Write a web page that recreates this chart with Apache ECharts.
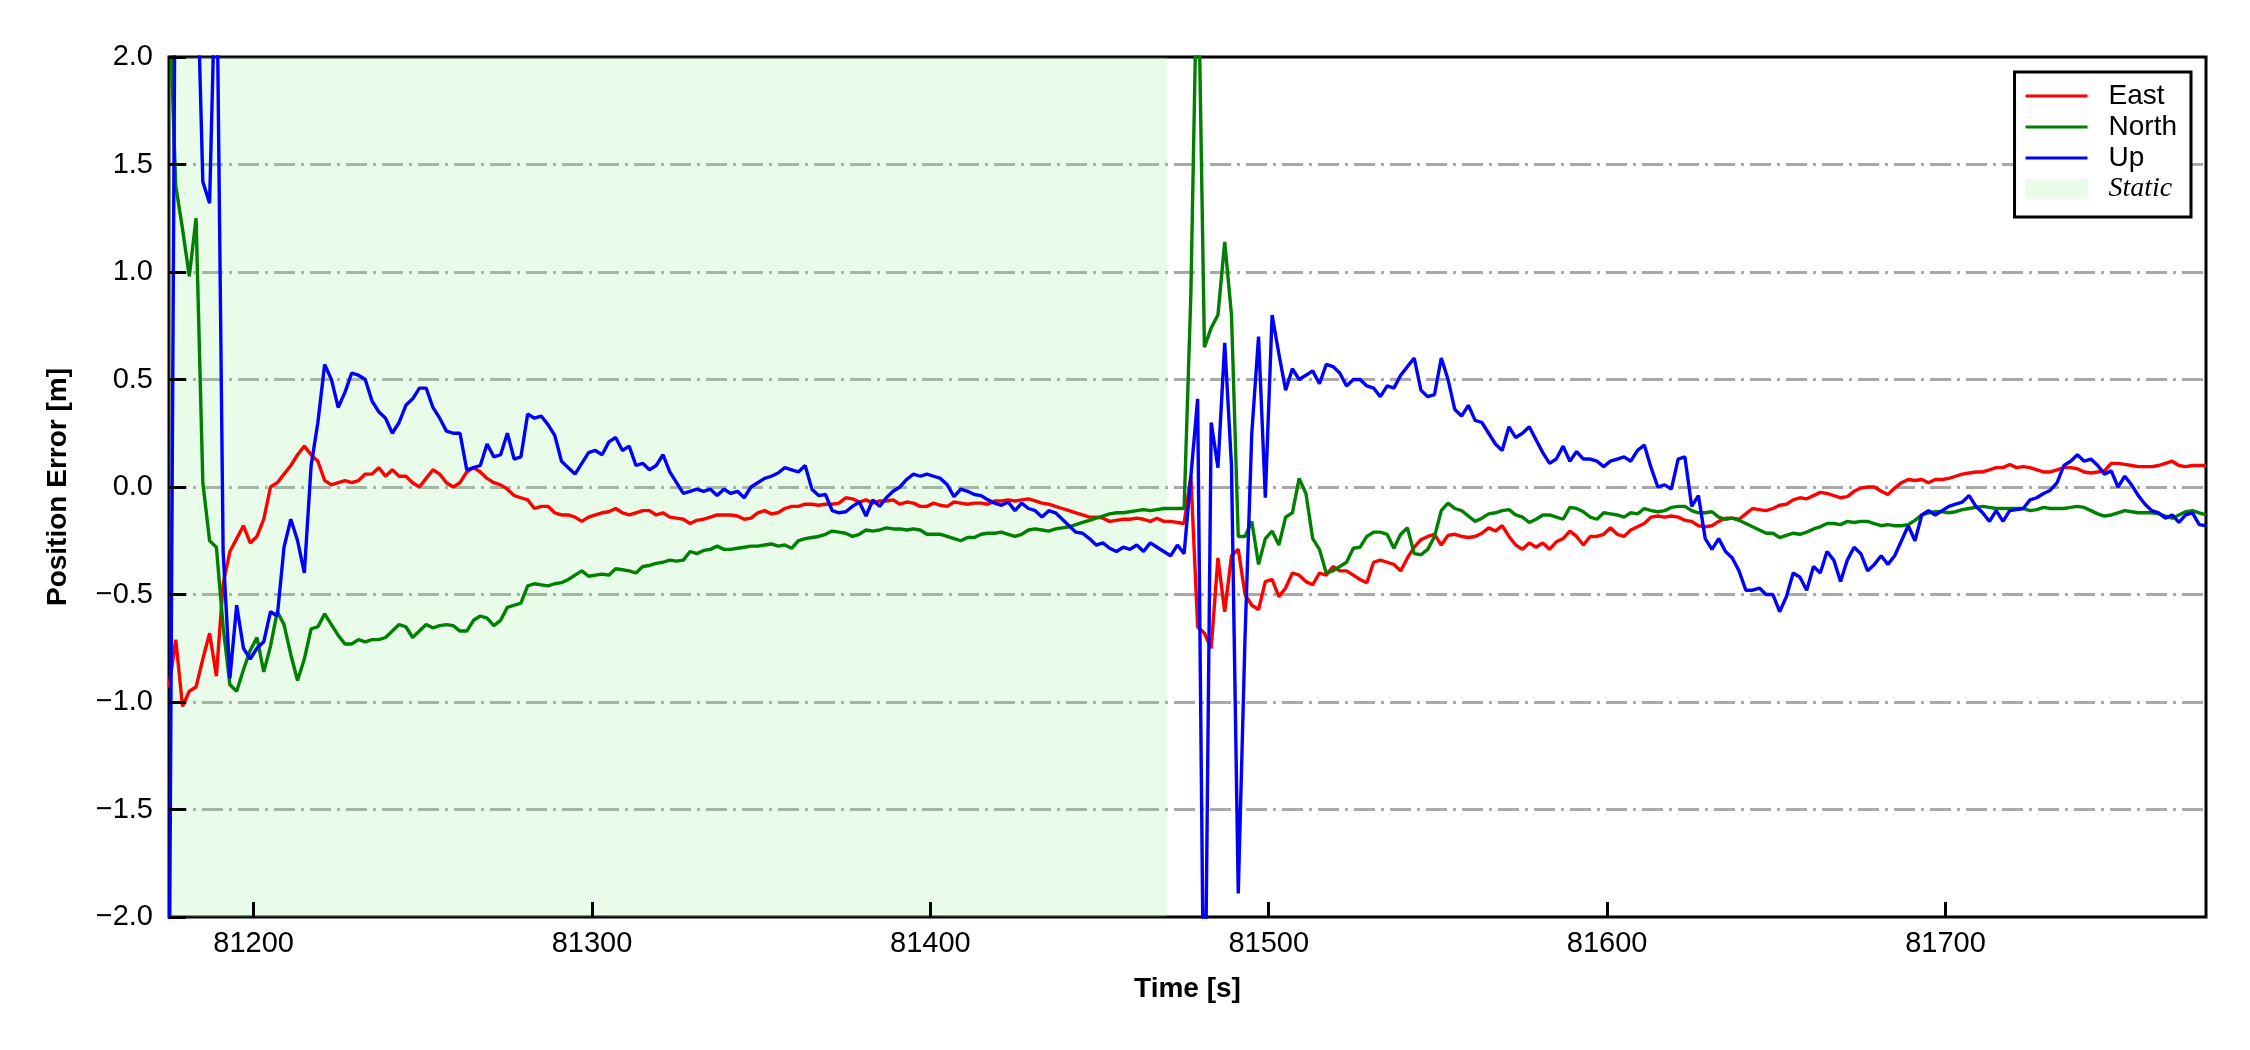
<!DOCTYPE html>
<html>
<head>
<meta charset="utf-8">
<title>Position Error</title>
<script src="https://cdn.jsdelivr.net/npm/echarts@6/dist/echarts.min.js"></script>
<style>
    html, body { margin: 0; padding: 0; background: #fff; }
    #chart { width: 2250px; height: 1050px; }
</style>
</head>
<body>
<div id="chart"></div>
<script>
    // samples every 2 s starting at T0
    const T0 = 81175;
    const DT = 2;
    const xTicks = [81200, 81300, 81400, 81500, 81600, 81700];
    const staticSpan = [81175, 81470];

    const east = [
        -0.93, -0.71, -1.02, -0.95, -0.93, -0.80, -0.68, -0.88, -0.45, -0.30,
        -0.24, -0.18, -0.26, -0.23, -0.15, 0.00, 0.02, 0.06, 0.10, 0.15,
        0.19, 0.15, 0.12, 0.03, 0.01, 0.02, 0.03, 0.02, 0.03, 0.06,
        0.06, 0.09, 0.05, 0.08, 0.05, 0.05, 0.02, 0.00, 0.04, 0.08,
        0.06, 0.02, 0.00, 0.02, 0.07, 0.09, 0.07, 0.04, 0.02, 0.01,
        -0.01, -0.04, -0.05, -0.06, -0.10, -0.09, -0.09, -0.12, -0.13, -0.13,
        -0.14, -0.16, -0.14, -0.13, -0.12, -0.115, -0.10, -0.12, -0.13, -0.12,
        -0.11, -0.11, -0.13, -0.12, -0.14, -0.145, -0.15, -0.17, -0.155, -0.15,
        -0.14, -0.13, -0.13, -0.13, -0.135, -0.15, -0.145, -0.12, -0.11, -0.125,
        -0.12, -0.10, -0.09, -0.09, -0.08, -0.08, -0.085, -0.08, -0.08, -0.075,
        -0.05, -0.055, -0.07, -0.06, -0.075, -0.065, -0.065, -0.06, -0.08, -0.07,
        -0.075, -0.09, -0.09, -0.075, -0.085, -0.09, -0.07, -0.075, -0.08, -0.075,
        -0.075, -0.08, -0.065, -0.065, -0.06, -0.065, -0.06, -0.055, -0.065, -0.075,
        -0.08, -0.09, -0.10, -0.11, -0.12, -0.13, -0.14, -0.14, -0.145, -0.16,
        -0.155, -0.15, -0.15, -0.145, -0.15, -0.16, -0.145, -0.16, -0.16, -0.165,
        -0.17, 0.05, -0.65, -0.68, -0.75, -0.33, -0.58, -0.32, -0.29, -0.50,
        -0.55, -0.57, -0.44, -0.43, -0.51, -0.47, -0.40, -0.41, -0.44, -0.455,
        -0.40, -0.41, -0.37, -0.39, -0.39, -0.41, -0.43, -0.445, -0.35, -0.34,
        -0.35, -0.36, -0.39, -0.33, -0.28, -0.245, -0.23, -0.22, -0.27, -0.225,
        -0.22, -0.23, -0.235, -0.23, -0.215, -0.19, -0.205, -0.18, -0.23, -0.27,
        -0.29, -0.26, -0.28, -0.26, -0.29, -0.255, -0.24, -0.205, -0.23, -0.27,
        -0.23, -0.23, -0.22, -0.19, -0.22, -0.23, -0.20, -0.185, -0.17, -0.14,
        -0.135, -0.14, -0.135, -0.14, -0.155, -0.16, -0.18, -0.185, -0.18, -0.16,
        -0.145, -0.145, -0.15, -0.125, -0.10, -0.105, -0.11, -0.10, -0.085, -0.08,
        -0.06, -0.05, -0.055, -0.04, -0.025, -0.03, -0.04, -0.05, -0.045, -0.02,
        -0.005, 0.00, 0.00, -0.02, -0.035, -0.005, 0.02, 0.035, 0.03, 0.035,
        0.02, 0.035, 0.035, 0.04, 0.05, 0.06, 0.065, 0.07, 0.07, 0.08,
        0.09, 0.09, 0.105, 0.09, 0.095, 0.09, 0.08, 0.07, 0.07, 0.08,
        0.09, 0.09, 0.085, 0.07, 0.065, 0.07, 0.075, 0.11, 0.11, 0.105,
        0.10, 0.095, 0.095, 0.095, 0.10, 0.11, 0.12, 0.10, 0.095, 0.10,
        0.10, 0.10
    ];

    const north = [
        2.30, 1.40, 1.20, 0.98, 1.25, 0.02, -0.25, -0.28, -0.65, -0.92,
        -0.95, -0.85, -0.76, -0.70, -0.86, -0.74, -0.58, -0.64, -0.78, -0.90,
        -0.80, -0.66, -0.65, -0.59, -0.64, -0.69, -0.73, -0.73, -0.71, -0.72,
        -0.71, -0.71, -0.70, -0.67, -0.64, -0.65, -0.70, -0.67, -0.64, -0.655,
        -0.645, -0.64, -0.645, -0.67, -0.67, -0.62, -0.60, -0.61, -0.645, -0.62,
        -0.56, -0.55, -0.54, -0.46, -0.45, -0.455, -0.46, -0.45, -0.445, -0.43,
        -0.41, -0.39, -0.415, -0.41, -0.405, -0.41, -0.38, -0.385, -0.39, -0.40,
        -0.37, -0.365, -0.355, -0.35, -0.34, -0.345, -0.34, -0.30, -0.31, -0.295,
        -0.29, -0.275, -0.29, -0.29, -0.285, -0.28, -0.275, -0.275, -0.27, -0.265,
        -0.275, -0.27, -0.285, -0.25, -0.24, -0.235, -0.23, -0.22, -0.205, -0.21,
        -0.215, -0.23, -0.22, -0.20, -0.205, -0.20, -0.19, -0.195, -0.195, -0.20,
        -0.195, -0.20, -0.22, -0.22, -0.22, -0.23, -0.24, -0.25, -0.235, -0.235,
        -0.22, -0.215, -0.215, -0.21, -0.22, -0.23, -0.22, -0.20, -0.195, -0.20,
        -0.205, -0.195, -0.19, -0.185, -0.175, -0.165, -0.155, -0.145, -0.135, -0.125,
        -0.12, -0.12, -0.115, -0.11, -0.105, -0.11, -0.105, -0.10, -0.10, -0.10,
        -0.10, 0.90, 2.60, 0.65, 0.74, 0.80, 1.14, 0.80, -0.23, -0.23,
        -0.16, -0.36, -0.24, -0.205, -0.27, -0.14, -0.12, 0.04, -0.03, -0.24,
        -0.29, -0.40, -0.39, -0.37, -0.35, -0.285, -0.28, -0.23, -0.21, -0.21,
        -0.22, -0.285, -0.22, -0.19, -0.31, -0.315, -0.29, -0.23, -0.11, -0.075,
        -0.10, -0.11, -0.135, -0.16, -0.145, -0.125, -0.12, -0.11, -0.105, -0.13,
        -0.14, -0.165, -0.15, -0.13, -0.13, -0.14, -0.15, -0.095, -0.10, -0.115,
        -0.14, -0.15, -0.12, -0.125, -0.13, -0.14, -0.12, -0.125, -0.10, -0.11,
        -0.115, -0.11, -0.095, -0.09, -0.09, -0.11, -0.12, -0.12, -0.115, -0.14,
        -0.15, -0.145, -0.155, -0.17, -0.185, -0.20, -0.215, -0.215, -0.235, -0.225,
        -0.215, -0.22, -0.21, -0.195, -0.185, -0.17, -0.17, -0.175, -0.16, -0.165,
        -0.16, -0.16, -0.17, -0.18, -0.175, -0.18, -0.18, -0.175, -0.155, -0.13,
        -0.12, -0.115, -0.115, -0.12, -0.115, -0.105, -0.10, -0.095, -0.09, -0.095,
        -0.10, -0.10, -0.10, -0.10, -0.10, -0.11, -0.105, -0.095, -0.10, -0.10,
        -0.10, -0.095, -0.09, -0.095, -0.11, -0.125, -0.135, -0.13, -0.12, -0.11,
        -0.115, -0.12, -0.12, -0.12, -0.125, -0.135, -0.145, -0.13, -0.115, -0.11,
        -0.12, -0.13
    ];

    const up = [
        -2.60, 3.00, 3.20, 3.00, 2.60, 1.42, 1.32, 2.60, -0.30, -0.89,
        -0.55, -0.75, -0.80, -0.75, -0.72, -0.58, -0.60, -0.28, -0.15, -0.25,
        -0.40, 0.10, 0.30, 0.57, 0.50, 0.37, 0.44, 0.53, 0.52, 0.50,
        0.40, 0.35, 0.32, 0.25, 0.30, 0.38, 0.41, 0.46, 0.46, 0.37,
        0.32, 0.26, 0.25, 0.25, 0.08, 0.09, 0.10, 0.20, 0.14, 0.15,
        0.25, 0.13, 0.14, 0.34, 0.32, 0.33, 0.29, 0.24, 0.12, 0.09,
        0.06, 0.11, 0.16, 0.17, 0.15, 0.21, 0.23, 0.17, 0.19, 0.10,
        0.11, 0.08, 0.10, 0.15, 0.07, 0.02, -0.03, -0.02, -0.01, -0.02,
        -0.01, -0.04, -0.01, -0.03, -0.02, -0.05, 0.00, 0.02, 0.04, 0.05,
        0.065, 0.09, 0.08, 0.07, 0.10, -0.01, -0.04, -0.035, -0.11, -0.12,
        -0.115, -0.09, -0.07, -0.135, -0.06, -0.09, -0.05, -0.02, 0.00, 0.035,
        0.06, 0.05, 0.06, 0.05, 0.04, 0.01, -0.045, -0.01, -0.02, -0.035,
        -0.04, -0.06, -0.075, -0.085, -0.07, -0.11, -0.075, -0.10, -0.11, -0.14,
        -0.11, -0.12, -0.15, -0.18, -0.21, -0.215, -0.24, -0.27, -0.26, -0.285,
        -0.30, -0.28, -0.29, -0.27, -0.30, -0.26, -0.28, -0.30, -0.32, -0.27,
        -0.31, 0.05, 0.41, -2.80, 0.30, 0.09, 0.67, 0.10, -1.89, -0.70,
        0.25, 0.70, -0.05, 0.80, 0.62, 0.45, 0.55, 0.50, 0.52, 0.54,
        0.48, 0.57, 0.56, 0.53, 0.47, 0.50, 0.50, 0.47, 0.46, 0.42,
        0.47, 0.46, 0.52, 0.56, 0.60, 0.45, 0.42, 0.43, 0.60, 0.50,
        0.36, 0.33, 0.38, 0.31, 0.30, 0.25, 0.20, 0.17, 0.28, 0.23,
        0.25, 0.28, 0.22, 0.16, 0.11, 0.13, 0.19, 0.12, 0.165, 0.13,
        0.13, 0.12, 0.095, 0.12, 0.13, 0.14, 0.12, 0.17, 0.195, 0.09,
        0.00, 0.01, -0.01, 0.13, 0.14, -0.09, -0.04, -0.24, -0.29, -0.24,
        -0.30, -0.33, -0.39, -0.48, -0.48, -0.47, -0.50, -0.50, -0.58, -0.51,
        -0.40, -0.42, -0.48, -0.37, -0.40, -0.30, -0.34, -0.44, -0.34, -0.28,
        -0.31, -0.39, -0.36, -0.32, -0.36, -0.32, -0.25, -0.18, -0.25, -0.13,
        -0.11, -0.13, -0.11, -0.09, -0.08, -0.07, -0.04, -0.09, -0.12, -0.16,
        -0.11, -0.16, -0.11, -0.105, -0.10, -0.06, -0.05, -0.03, -0.015, 0.02,
        0.10, 0.12, 0.15, 0.12, 0.13, 0.10, 0.06, 0.075, 0.00, 0.05,
        0.01, -0.04, -0.08, -0.11, -0.12, -0.145, -0.13, -0.165, -0.13, -0.12,
        -0.175, -0.18
    ];

    function toPairs(arr) {
        return arr.map((v, i) => [T0 + i * DT, v]);
    }

    const sans = 'Liberation Sans, Arial, Helvetica, sans-serif';
    // thin bar used as legend sample for the lines
    const lineIcon = 'path://M0,0H62V3H0Z';

    function lineSeries(name, color, values, z) {
        return {
            name: name,
            type: 'line',
            data: toPairs(values),
            symbol: 'none',
            showSymbol: false,
            clip: true,
            z: z,
            color: color,
            lineStyle: {color: color, width: 3.4},
            animation: false
        };
    }

    const chart = echarts.init(document.getElementById('chart'));
    chart.setOption({
        backgroundColor: '#fff',
        animation: false,
        grid: {
            left: 169, right: 44, top: 57, bottom: 133,
            show: true, borderColor: '#000', borderWidth: 3,
            backgroundColor: 'transparent'
        },
        legend: {
            orient: 'vertical',
            right: 59, top: 72,
            backgroundColor: '#fff',
            borderColor: '#000', borderWidth: 3, borderRadius: 0,
            padding: [10, 14, 14, 11],
            itemWidth: 62, itemHeight: 20, itemGap: 3,
            symbolKeepAspect: true,
            selectedMode: false,
            textStyle: {fontFamily: sans, fontSize: 28, color: '#000', padding: [0, 0, 0, 16]},
            data: [
                {name: 'East', icon: lineIcon},
                {name: 'North', icon: lineIcon},
                {name: 'Up', icon: lineIcon},
                {name: 'Static', icon: 'rect',
                    textStyle: {fontFamily: 'Liberation Serif, Times New Roman, serif', fontStyle: 'italic', fontSize: 28}}
            ]
        },
        xAxis: {
            type: 'value',
            z: 10,
            min: 81175, max: 81777,
            name: 'Time [s]',
            nameLocation: 'middle',
            nameGap: 58,
            nameTextStyle: {fontFamily: sans, fontSize: 28, fontWeight: 'bold', color: '#000'},
            axisLine: {show: false, onZero: false},
            axisTick: {show: true, inside: true, length: 15, customValues: xTicks,
                lineStyle: {color: '#000', width: 3}},
            axisLabel: {
                customValues: xTicks, fontFamily: sans, fontSize: 29, color: '#000', margin: 12,
                formatter: function (v) { return String(v); }
            },
            splitLine: {show: false}
        },
        yAxis: [
            {
                // grid lines only
                type: 'value', position: 'left',
                min: -2, max: 2, interval: 0.5,
                axisLine: {show: false, onZero: false},
                axisTick: {show: false},
                axisLabel: {show: false},
                splitLine: {
                    show: true, showMinLine: false, showMaxLine: false,
                    lineStyle: {color: '#a9a9a9', width: 3, type: [21, 6, 3, 6], dashOffset: 3}
                }
            },
            {
                // ticks, labels and title, drawn above the grid lines and the data
                type: 'value', position: 'left', z: 10,
                min: -2, max: 2, interval: 0.5,
                name: 'Position Error [m]',
                nameLocation: 'middle',
                nameGap: 97,
                nameTextStyle: {fontFamily: sans, fontSize: 28, fontWeight: 'bold', color: '#000'},
                axisLine: {show: false, onZero: false},
                axisTick: {show: true, inside: true, length: 17, lineStyle: {color: '#000', width: 3}},
                axisLabel: {
                    fontFamily: sans, fontSize: 29, color: '#000', margin: 16,
                    formatter: function (v) {
                        return (v < 0 ? '\u2212' : '') + Math.abs(v).toFixed(1);
                    }
                },
                splitLine: {show: false}
            }
        ],
        series: [
            {
                name: 'Static',
                type: 'line',
                data: [],
                z: 1,
                color: 'rgba(144,238,144,0.2)',
                markArea: {
                    silent: true,
                    itemStyle: {color: 'rgba(144,238,144,0.2)'},
                    data: [[{xAxis: staticSpan[0]}, {xAxis: staticSpan[1]}]]
                }
            },
            lineSeries('East', '#ff0000', east, 2),
            lineSeries('North', '#008000', north, 3),
            lineSeries('Up', '#0000ff', up, 4)
        ]
    });
</script>
</body>
</html>
